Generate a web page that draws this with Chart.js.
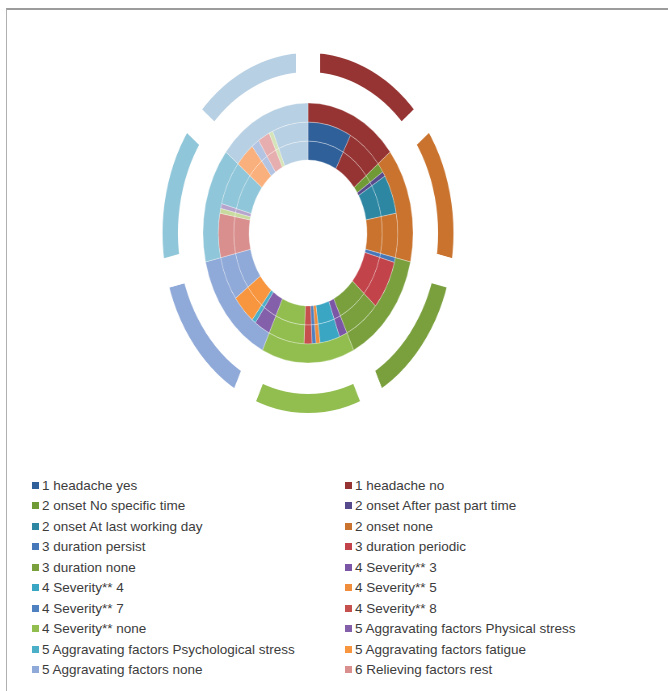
<!DOCTYPE html>
<html>
<head>
<meta charset="utf-8">
<script src="https://cdn.jsdelivr.net/npm/chart.js@4.4.1/dist/chart.umd.min.js"></script>
<style>
  body { margin: 0; background: #fff; }
  #frame {
    position: absolute; left: 6px; top: 8px; width: 662px; height: 683px;
    border-top: 2px solid #9c9c9c; border-left: 1px solid #b0b0b0;
  }
  #pie {
    position: absolute; left: 108px; top: 33px; width: 400px; height: 400px;
    transform: scaleX(0.808);
  }
  #legend {
    position: absolute; left: 32px; top: 475px;
    display: grid; grid-template-columns: 313px 300px;
    font: 13.5px "Liberation Sans", Arial, sans-serif;
    color: #3c3c3c;
  }
  .item { height: 20.5px; display: flex; align-items: center; white-space: nowrap; }
  .box { width: 7px; height: 7px; margin-right: 3px; flex: none; }
</style>
</head>
<body>
<div id="frame"></div>
<div id="pie"><canvas id="chart"></canvas></div>
<div id="legend"></div>
<script>
const categories = [
  "1 headache yes", "1 headache no",
  "2 onset No specific time", "2 onset After past part time", "2 onset At last working day", "2 onset none",
  "3 duration persist", "3 duration periodic", "3 duration none",
  "4 Severity** 3", "4 Severity** 4", "4 Severity** 5", "4 Severity** 7", "4 Severity** 8", "4 Severity** none",
  "5 Aggravating factors Physical stress", "5 Aggravating factors Psychological stress",
  "5 Aggravating factors fatigue", "5 Aggravating factors none",
  "6 Relieving factors rest", "6 Relieving factors sleep", "6 Relieving factors massage", "6 Relieving factors none",
  "7 Medication analgesic", "7 Medication NSAID", "7 Medication ergot", "7 Medication herbal", "7 Medication none"
];

const colors = [
  "#30609a", "#953432",
  "#6f9a36", "#574a8c", "#2d87a2", "#c9732e",
  "#4677b9", "#c2434a", "#7aa03e",
  "#7b56a6", "#3ba6c3", "#ef8d3c", "#4f80c0", "#c5504d", "#92be50",
  "#8460aa", "#4bafc8", "#f7963f", "#8fa9d8",
  "#d98f8e", "#c9da9e", "#b6a4cd", "#8fc6d9",
  "#fab07d", "#b3c3e2", "#e6aeae", "#d5e4b8", "#b8d0e3"
];

// legend only lists the first 20 answers
const legendCount = 20;

// answer counts per ring, outermost first
const groupA = [0, 20, 0, 0, 0, 20, 0, 0, 20, 0, 0, 0, 0, 0, 20, 0, 0, 0, 20, 0, 0, 0, 20, 0, 0, 0, 0, 20];
const groupB = [0, 20, 0, 0, 0, 20, 0, 0, 20, 0, 0, 0, 0, 0, 20, 0, 0, 0, 20, 0, 0, 0, 20, 0, 0, 0, 0, 20];
const groupC = [11, 9, 2, 1, 8, 9, 1, 10, 9, 2, 5, 1, 1, 2, 9, 4, 1, 6, 9, 9, 1, 1, 9, 5, 2, 3, 1, 9];
const groupD = [11, 9, 2, 1, 8, 9, 1, 10, 9, 2, 5, 1, 1, 2, 9, 4, 1, 6, 9, 9, 1, 1, 9, 5, 2, 3, 1, 9];

const ring = (data, weight) => ({
  data: data,
  weight: weight,
  backgroundColor: colors,
  borderColor: "rgba(255,255,255,0.3)",
  borderWidth: 1
});

// exploded outer ring: thick white border opens the gaps between slices
const outer = ring(groupA, 49);
outer.borderColor = "#ffffff";
outer.borderWidth = 30;

new Chart(document.getElementById("chart").getContext("2d"), {
  type: "doughnut",
  data: {
    labels: categories,
    datasets: [
      outer,
      { data: [], weight: 16 },
      ring(groupB, 19),
      ring(groupC, 19),
      ring(groupD, 19)
    ]
  },
  options: {
    responsive: true,
    maintainAspectRatio: false,
    animation: false,
    events: [],
    radius: 195,
    cutout: "37.44%",
    layout: { padding: 0 },
    plugins: {
      legend: { display: false },
      tooltip: { enabled: false }
    }
  }
});

const legend = document.getElementById("legend");
categories.slice(0, legendCount).forEach((name, i) => {
  const item = document.createElement("div");
  item.className = "item";
  const box = document.createElement("span");
  box.className = "box";
  box.style.background = colors[i];
  item.appendChild(box);
  item.appendChild(document.createTextNode(name));
  legend.appendChild(item);
});
</script>
</body>
</html>
